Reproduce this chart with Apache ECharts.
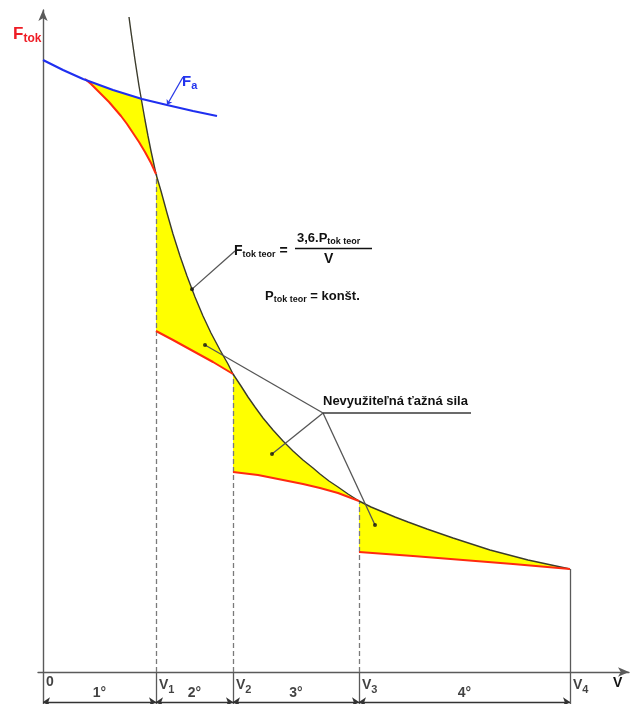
<!DOCTYPE html>
<html>
<head>
<meta charset="utf-8">
<script src="https://cdn.jsdelivr.net/npm/echarts@6/dist/echarts.min.js"></script>
<style>
  html, body { margin: 0; padding: 0; background: #fff; }
  #chart { width: 630px; height: 704px; }
</style>
</head>
<body>
<div id="chart"></div>
<script>
// Gear change speeds (0, V1 .. V4) on the speed axis
const speedStops = [0, 113, 190, 316, 527];
const stopLabels = ['0', 'V{s|1}', 'V{s|2}', 'V{s|3}', 'V{s|4}'];
const gearNames = ['1°', '2°', '3°', '4°'];

// Ideal traction hyperbola F = 3,6.P / V  [speed, force]
const theoreticalForce = [
  [86, 655], [88, 640], [90, 626], [92, 612], [94, 599], [96, 586], [99, 569],
  [102, 552], [105, 536], [108, 521], [113, 498], [118, 481], [124, 459], [130, 438],
  [137, 416], [144, 396], [152, 375], [160, 356], [168, 339], [177, 322], [185, 308],
  [190, 298], [198, 286], [205, 275], [212, 265], [220, 254], [230, 242], [240, 231],
  [250, 221], [260, 212], [270, 204], [277, 198], [286, 191], [295, 185], [305, 178],
  [316, 171], [328, 165], [340, 160], [352, 155], [365, 150], [384, 143], [410, 134],
  [447, 122], [485, 112], [527, 103]
];

// Adhesion limit Fa
const adhesionForce = [
  [0, 612], [20, 602], [40, 593], [70, 582], [99, 573], [124, 567], [150, 561], [174, 556]
];

// Real traction force in each gear
const gear1Force = [
  [42, 593], [48, 588], [54, 582], [60, 576], [66, 570], [72, 563], [78, 556],
  [84, 548], [90, 539], [96, 530], [102, 520], [108, 509], [113, 498]
];
const gear2Force = [[113, 341], [130, 332], [150, 321], [170, 310], [190, 298]];
const gear3Force = [[190, 200], [215, 197], [240, 192], [260, 188], [277, 184], [295, 179], [316, 171]];
const gear4Force = [[316, 120], [370, 116], [420, 112], [470, 108], [527, 103]];
const gearForces = [gear1Force, gear2Force, gear3Force, gear4Force];

// ---- helpers -------------------------------------------------------------
function valueAt(curve, x) {
  for (let i = 0; i < curve.length - 1; i++) {
    const [x0, y0] = curve[i], [x1, y1] = curve[i + 1];
    if (x >= x0 && x <= x1) return y0 + (y1 - y0) * (x - x0) / (x1 - x0);
  }
  return x < curve[0][0] ? curve[0][1] : curve[curve.length - 1][1];
}
function between(curve, a, b) {
  return curve.filter(p => p[0] >= a && p[0] <= b);
}

// where the hyperbola crosses the adhesion limit
let lo = theoreticalForce[0][0], hi = speedStops[1];
for (let k = 0; k < 40; k++) {
  const m = (lo + hi) / 2;
  if (valueAt(theoreticalForce, m) - valueAt(adhesionForce, m) > 0) lo = m; else hi = m;
}
const crossX = (lo + hi) / 2;
const crossPt = [crossX, valueAt(adhesionForce, crossX)];

// shaded areas of unused traction force
const unusedAreas = [];
unusedAreas.push([
  ...gear1Force,
  ...between(theoreticalForce, crossX, speedStops[1]).reverse(),
  crossPt,
  ...between(adhesionForce, gear1Force[0][0] + 0.01, crossX).reverse()
]);
for (let g = 1; g < 4; g++) {
  unusedAreas.push([
    ...between(theoreticalForce, speedStops[g], speedStops[g + 1]),
    ...gearForces[g].slice().reverse()
  ]);
}

const AXIS_BOTTOM = -32;
const BRACKET_Y = -30;
const FONT = 'Liberation Sans, Arial, sans-serif';

// vertical guide lines at the shift speeds
const dashedGuides = [], solidGuides = [];
for (let i = 1; i < speedStops.length; i++) {
  const v = speedStops[i];
  const top = valueAt(theoreticalForce, v);
  if (i < speedStops.length - 1) dashedGuides.push({ coords: [[v, 0], [v, top]] });
  else solidGuides.push({ coords: [[v, 0], [v, top]] });
  solidGuides.push({ coords: [[v, AXIS_BOTTOM], [v, 0]] });
}

// gear range arrows under the axis
const gearArrows = [];
for (let g = 0; g < 4; g++) {
  gearArrows.push({ coords: [[speedStops[g], BRACKET_Y], [speedStops[g + 1], BRACKET_Y]] });
}
const gearLabelData = gearNames.map((n, g) => ({
  value: [(speedStops[g] + speedStops[g + 1]) / 2, -21], name: n
}));
const stopLabelData = speedStops.map((v, i) => ({ value: [v, 0], name: stopLabels[i] }));

// annotation leaders
const hub = [280, 259];
const unusedDots = [[162, 327], [229, 218], [332, 147]];
const formulaAnchor = [149, valueAt(theoreticalForce, 149)];
const faAnchor = [124, valueAt(adhesionForce, 124)];

const chart = echarts.init(document.getElementById('chart'), null, { renderer: 'canvas' });

const option = {
  animation: false,
  backgroundColor: '#ffffff',
  grid: { left: 38, right: 1, top: 10, bottom: 0, containLabel: false },
  xAxis: {
    type: 'value', min: -5, max: 586,
    axisLine: { onZero: true, symbol: ['none', 'arrow'], symbolSize: [7, 11],
      lineStyle: { color: '#5a5a5a', width: 1.4 } },
    axisTick: { show: false }, axisLabel: { show: false }, splitLine: { show: false }
  },
  yAxis: {
    type: 'value', min: AXIS_BOTTOM, max: 662,
    axisLine: { onZero: true, symbol: ['none', 'arrow'], symbolSize: [7, 11],
      lineStyle: { color: '#5a5a5a', width: 1.4 } },
    axisTick: { show: false }, axisLabel: { show: false }, splitLine: { show: false }
  },
  series: [
    {
      type: 'custom', coordinateSystem: 'cartesian2d', z: 1, silent: true,
      data: unusedAreas.map(a => a[0]),
      renderItem: (params, api) => ({
        type: 'polygon',
        shape: { points: unusedAreas[params.dataIndex].map(p => api.coord(p)) },
        style: { fill: '#ffff00', stroke: null }
      })
    },
    {
      type: 'lines', coordinateSystem: 'cartesian2d', z: 2, silent: true,
      lineStyle: { color: '#7a7a7a', width: 1.3, type: [5, 3], opacity: 1 },
      data: dashedGuides
    },
    {
      type: 'lines', coordinateSystem: 'cartesian2d', z: 2, silent: true,
      lineStyle: { color: '#5a5a5a', width: 1.3, opacity: 1 },
      data: solidGuides
    },
    {
      type: 'lines', coordinateSystem: 'cartesian2d', z: 2, silent: true,
      symbol: ['arrow', 'arrow'], symbolSize: 7,
      lineStyle: { color: '#333', width: 1.3, opacity: 1 },
      data: gearArrows
    },
    {
      name: 'F tok teor', type: 'line', z: 3, showSymbol: false, silent: true,
      lineStyle: { color: '#3b3b2c', width: 1.4 },
      data: theoreticalForce
    },
    ...gearForces.map((d, g) => ({
      name: 'gear ' + (g + 1), type: 'line', z: 4, showSymbol: false, silent: true,
      lineStyle: { color: '#ff2a10', width: 2 },
      data: d
    })),
    {
      name: 'Fa', type: 'line', z: 5, showSymbol: false, silent: true,
      lineStyle: { color: '#1f2ff0', width: 2.2 },
      data: adhesionForce
    },
    {
      type: 'lines', coordinateSystem: 'cartesian2d', z: 6, silent: true,
      lineStyle: { color: '#555', width: 1.3, opacity: 1 },
      data: [
        { coords: [formulaAnchor, [192, 421]] },
        ...unusedDots.map(d => ({ coords: [hub, d] }))
      ]
    },
    {
      type: 'lines', coordinateSystem: 'cartesian2d', z: 6, silent: true,
      lineStyle: { color: '#3a3a3a', width: 1.6, opacity: 1 },
      data: [{ coords: [hub, [428, hub[1]]] }]
    },
    {
      type: 'lines', coordinateSystem: 'cartesian2d', z: 6, silent: true,
      symbol: ['arrow', 'none'], symbolSize: 5,
      lineStyle: { color: '#2a3ae8', width: 1.3, opacity: 1 },
      data: [{ coords: [faAnchor, [140, 595]] }]
    },
    {
      type: 'scatter', z: 7, silent: true, symbolSize: 4,
      itemStyle: { color: '#111' },
      data: [...unusedDots, formulaAnchor]
    },
    {
      type: 'scatter', z: 7, silent: true, symbolSize: 0,
      data: stopLabelData,
      label: {
        show: true, position: [3, 3], formatter: p => p.name,
        color: '#111', fontFamily: FONT, fontWeight: 'bold', fontSize: 14,
        rich: {
          s: { fontFamily: FONT, fontWeight: 'bold', fontSize: 11, color: '#111',
               padding: [9, 0, 0, 0] }
        }
      }
    },
    {
      type: 'scatter', z: 7, silent: true, symbolSize: 0,
      data: gearLabelData,
      label: {
        show: true, position: 'inside', formatter: p => p.name,
        color: '#111', fontFamily: FONT, fontWeight: 'bold', fontSize: 14
      }
    }
  ],
  graphic: [
    { type: 'text', x: 13, y: 24, style: {
        text: 'F{s|tok}', fill: '#ee1c25', font: 'bold 17px ' + FONT,
        rich: { s: { fontSize: 12, fontWeight: 'bold', fill: '#ee1c25', fontFamily: FONT, padding: [9, 0, 0, 0] } } } },
    { type: 'text', x: 182, y: 72, style: {
        text: 'F{s|a}', fill: '#2233ee', font: 'bold 15px ' + FONT,
        rich: { s: { fontSize: 11, fontWeight: 'bold', fill: '#2233ee', fontFamily: FONT, padding: [8, 0, 0, 0] } } } },
    { type: 'text', x: 613, y: 676, style: { text: 'V', fill: '#111', font: 'bold 14px ' + FONT } },
    { type: 'text', x: 234, y: 243, style: {
        text: 'F{s|tok teor} =', fill: '#111', font: 'bold 14px ' + FONT,
        rich: { s: { fontSize: 9, fontWeight: 'bold', fill: '#111', fontFamily: FONT, padding: [7, 0, 0, 0] } } } },
    { type: 'text', x: 297, y: 230, style: {
        text: '3,6.P{s|tok teor}', fill: '#111', font: 'bold 13px ' + FONT,
        rich: { s: { fontSize: 9, fontWeight: 'bold', fill: '#111', fontFamily: FONT, padding: [7, 0, 0, 0] } } } },
    { type: 'line', shape: { x1: 295, y1: 248.5, x2: 372, y2: 248.5 }, style: { stroke: '#111', lineWidth: 1.4 } },
    { type: 'text', x: 324, y: 252, style: { text: 'V', fill: '#111', font: 'bold 14px ' + FONT } },
    { type: 'text', x: 265, y: 288, style: {
        text: 'P{s|tok teor} = konšt.', fill: '#111', font: 'bold 13px ' + FONT,
        rich: { s: { fontSize: 9, fontWeight: 'bold', fill: '#111', fontFamily: FONT, padding: [7, 0, 0, 0] } } } },
    { type: 'text', x: 323, y: 395, style: {
        text: 'Nevyužiteľná ťažná sila', fill: '#111', font: 'bold 13px ' + FONT } }
  ]
};

chart.setOption(option);
</script>
</body>
</html>
